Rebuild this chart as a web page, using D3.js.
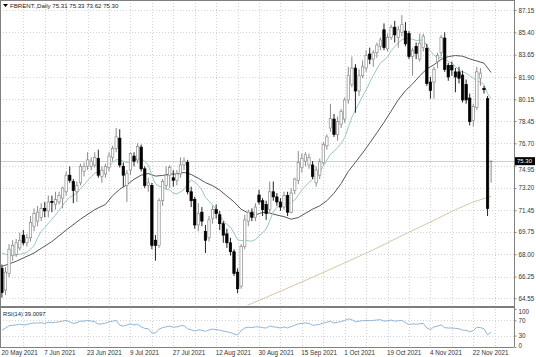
<!DOCTYPE html>
<html><head><meta charset="utf-8">
<script src="https://cdn.jsdelivr.net/npm/d3@7"></script>
<style>
html,body{margin:0;padding:0;background:#fff;}
svg{display:block;font-family:"Liberation Sans",Arial,sans-serif;}
</style></head><body>
<svg id="c" width="536" height="357"></svg>
<script>
const symbolName = "FBRENT.,Daily";
const lastQuote = [75.31, 75.33, 73.62, 75.30];
const rsiName = "RSI(14)";
const rsiLast = "39.0097";

const dateLabels = ["20 May 2021","7 Jun 2021","23 Jun 2021","9 Jul 2021","27 Jul 2021","12 Aug 2021","30 Aug 2021","15 Sep 2021","1 Oct 2021","19 Oct 2021","4 Nov 2021","22 Nov 2021"];
const dateLabelBars = [0,12,24,36,48,60,72,84,96,108,120,132];
const priceTicks = [87.15,85.40,83.65,81.90,80.15,78.45,76.70,74.95,73.20,71.45,69.75,68.00,66.25,64.55];
const rsiTicks = [100,70,30,0];
const rsiLevels = [70,30];

const opens = [66.9,65.2,66.5,67.9,68.0,68.5,69.5,68.9,69.3,70.2,70.6,70.9,71.6,71.4,72.15,71.9,72.1,72.4,72.9,74.2,73.7,72.9,73.6,74.5,74.9,74.9,75.0,75.5,74.1,74.3,74.8,75.6,76.3,77.1,74.9,73.4,74.6,75.7,75.4,76.4,74.7,73.4,73.4,69.1,68.7,72.2,73.4,74.2,74.0,73.8,74.3,75.0,75.2,72.9,72.3,70.3,71.3,69.8,69.3,70.8,71.5,71.1,70.4,69.6,68.9,68.2,66.6,65.5,68.6,70.6,71.3,70.9,72.65,72.2,71.9,71.5,72.9,72.5,72.1,71.7,72.6,71.3,73.0,73.8,74.8,75.3,75.0,75.0,73.6,74.2,75.2,76.5,77.9,78.6,77.4,78.2,78.6,80.1,81.3,82.6,80.8,82.0,82.6,83.7,83.3,83.8,84.3,85.6,84.1,85.0,85.8,85.0,85.4,85.5,85.3,83.5,84.3,83.3,84.2,84.15,81.5,81.5,83.1,83.8,84.95,82.8,82.8,82.3,82.3,82.05,81.3,80.25,78.5,79.5,81.8,81.0,80.2,75.31];
const highs = [67.2,67.0,68.8,69.1,69.2,69.7,69.9,69.6,71.0,71.6,71.8,72.0,72.1,72.6,72.6,72.9,72.9,73.3,74.5,74.9,73.9,73.7,75.1,75.2,76.0,75.6,76.0,76.2,74.9,75.1,76.0,76.5,77.9,77.8,75.2,74.6,76.0,76.0,76.7,76.6,74.9,74.0,73.6,69.5,72.4,73.9,74.9,75.0,74.6,74.6,75.6,75.6,75.4,73.3,72.5,72.0,71.7,70.3,71.0,71.8,71.9,71.4,70.6,70.0,69.3,68.4,66.9,68.8,71.1,71.5,71.6,72.0,73.05,72.4,72.2,73.7,73.7,72.8,72.4,72.9,72.9,73.2,74.0,76.1,75.9,76.0,75.9,75.3,74.9,75.5,76.8,77.4,79.8,79.0,78.8,79.4,80.3,82.7,83.5,82.9,82.5,83.2,84.0,84.2,84.0,84.6,85.0,86.1,85.3,86.0,86.3,85.9,86.75,86.2,85.5,84.2,84.6,85.3,85.3,84.5,81.9,82.7,83.8,85.2,85.4,83.0,83.1,82.6,82.7,82.4,81.7,80.6,79.8,82.7,82.6,81.2,80.4,75.33];
const lows = [64.6,64.8,66.2,67.5,67.8,68.3,68.7,68.6,69.0,69.8,70.2,70.6,70.9,70.9,71.3,71.5,71.9,71.6,72.6,73.6,72.0,72.1,73.4,74.1,74.6,74.6,74.8,74.0,73.6,74.0,74.5,75.3,76.0,74.8,73.3,72.1,74.2,74.9,75.1,74.5,73.2,72.9,68.4,67.5,68.5,71.8,73.1,73.2,73.3,73.4,74.0,74.6,72.7,71.7,70.0,69.8,70.2,68.1,69.0,70.4,70.8,69.9,68.9,68.5,67.9,66.3,64.95,65.3,68.4,70.2,70.6,70.6,71.9,71.0,70.7,71.3,72.2,71.8,71.4,71.5,71.0,71.2,72.7,73.5,74.4,74.9,74.7,73.9,73.3,73.9,75.0,76.2,77.6,77.2,76.9,77.9,78.3,79.8,81.1,79.1,80.4,81.8,82.3,82.9,82.7,83.4,84.0,84.0,83.9,84.8,84.6,84.2,85.1,84.3,83.3,82.0,83.3,83.1,83.9,81.2,80.2,80.2,82.6,83.5,82.3,81.6,82.0,80.7,81.4,79.9,79.8,78.1,78.0,79.3,81.2,80.6,71.0,73.62];
const closes = [65.0,66.6,68.4,68.7,68.9,69.1,68.9,69.3,70.5,71.2,71.3,71.6,71.4,72.1,72.05,72.3,72.6,73.2,74.2,73.8,73.0,73.4,74.9,74.9,75.4,75.3,75.6,74.2,74.6,74.9,75.7,76.3,77.2,75.0,74.2,74.35,75.9,75.3,76.45,74.7,73.4,73.6,68.7,68.7,72.2,73.7,74.2,74.8,73.8,74.3,75.0,75.3,72.9,72.2,70.3,71.2,70.6,69.1,70.7,71.5,71.2,70.4,69.5,68.9,68.2,66.5,65.3,68.6,70.7,71.3,70.9,71.7,72.1,71.5,71.2,72.9,72.5,72.1,71.7,72.6,71.3,72.8,73.9,75.2,75.5,75.8,75.6,74.1,74.6,75.25,76.6,77.2,78.65,77.4,78.4,79.2,80.1,82.0,82.6,80.8,82.0,82.7,83.6,83.3,83.8,84.4,84.8,84.2,85.0,85.8,85.2,85.6,86.0,84.5,83.5,84.0,83.75,84.55,85.1,81.4,80.85,82.5,83.6,85.0,82.5,81.9,82.45,81.9,81.8,80.1,80.1,78.4,79.6,82.3,82.2,80.9,71.6,75.30];

// moving average lines
const maFast = [68.1,68.0,67.95,67.95,67.95,68.0,68.05,68.15,68.4,68.66,69.29,69.79,70.09,70.43,70.75,71.07,71.44,71.83,72.2,72.46,72.63,72.81,73.16,73.44,73.77,74.07,74.37,74.47,74.51,74.62,74.89,75.18,75.41,75.42,75.3,75.2,75.24,75.35,75.53,75.51,75.28,75.01,74.16,73.53,73.33,73.27,73.1,73.05,72.78,72.74,72.9,73.07,73.49,73.84,73.65,73.4,73.04,72.47,72.16,71.88,71.5,71.01,70.67,70.34,70.13,69.66,69.13,69.08,69.08,69.06,69.03,69.16,69.42,69.68,69.98,70.62,71.34,71.69,71.79,71.92,71.96,72.07,72.25,72.62,73.05,73.34,73.65,73.85,74.14,74.41,74.94,75.38,75.85,76.07,76.36,76.7,77.15,77.94,78.74,79.3,79.84,80.39,80.88,81.47,82.01,82.53,83.0,83.22,83.46,83.96,84.28,84.57,84.81,84.93,84.9,84.86,84.76,84.79,84.8,84.36,83.93,83.62,83.38,83.43,83.33,83.12,82.99,82.72,82.45,82.3,82.2,82.0,81.8,81.6,81.5,81.3,80.6,80.2];
const maSlowBars = [0,4,9,14,18,22,26,29,31,33,35,37,39,41,43,45,47,49,51,53,55,57,59,61,63,65,67,69,71,73,75,77,79,81,83,85,87,89,91,93,95,97,99,101,103,105,107,109,111,113,115,117,119,121,123,125,127,129,131,133,135,137];
const maSlow = [67.05,67.45,68.1,69.0,69.9,70.75,71.5,71.91,72.59,73.1,73.45,73.88,74.2,74.33,74.13,74.18,74.29,74.29,74.42,74.26,73.96,73.62,73.38,73.03,72.57,72.11,71.53,71.23,71.08,71.29,71.23,71.08,70.95,70.75,70.88,71.21,71.54,71.8,72.2,72.79,73.55,74.49,75.21,75.94,76.72,77.52,78.34,79.22,80.11,80.82,81.36,81.98,82.54,82.86,83.28,83.5,83.58,83.53,83.32,83.15,82.98,82.25];
const ma200Bars = [66,70,73,80,87,95,104,113,122,127,132,137];
const ma200 = [63.7,64.15,64.5,65.35,66.2,67.2,68.35,69.6,70.8,71.5,72.1,72.55];

const rsi = [44,50,56,57,58,60,58,59,62,63,63,64,62,65,64,65,66,68,70,66,62,64,68,68,70,68,67,60,61,63,66,68,70,57,55,58,61,58,60,53,49,48,37,37,47,51,53,55,52,53,56,56,48,45,42,45,44,41,45,47,46,44,42,40,38,34,31.5,43,50,52,51,53,53,51,50,55,53,52,50,53,50,54,57,61,62,63,62,57,58,60,63,65,68,63,65,67,70,74,72,66,68,69,70,69,70,71,72,68,69,71,68,69,70,64,59,61,60,61,62,50,46,53,55,58,51,50,50,49,48,44,44,40,43,52,51,48,32,39.01];

const W = 536, H = 357;
const plotL = 0, plotR = 514;
const mainTop = 0, mainBot = 305;
const rsiTop = 309, rsiBot = 347;
const barStep = 3.571, bar0 = 1.9;
const nBars = closes.length;

const svg = d3.select("#c");
svg.append("rect").attr("width", W).attr("height", H).attr("fill", "#fff");

const x = d3.scaleLinear().domain([0, 137]).range([bar0, bar0 + 137 * barStep]);
const y = d3.scaleLinear().domain([64.55, 87.15]).range([298.3, 10]);
const yr = d3.scaleLinear().domain([0, 100]).range([rsiBot, rsiTop]);

const gridColor = "#d2d2d2";
const vIdx = d3.range(6, 145, 6).filter(i => x(i) < plotR);

const defs = svg.append("defs");
defs.append("clipPath").attr("id", "clipMain")
  .append("rect").attr("x", plotL).attr("y", mainTop).attr("width", plotR - plotL).attr("height", mainBot - mainTop);
defs.append("clipPath").attr("id", "clipRsi")
  .append("rect").attr("x", plotL).attr("y", rsiTop).attr("width", plotR - plotL).attr("height", rsiBot - rsiTop);

const grid = svg.append("g").attr("stroke", gridColor).attr("stroke-width", 1).attr("stroke-dasharray", "1,2");
grid.selectAll("line.h").data(priceTicks).join("line")
  .attr("x1", plotL).attr("x2", plotR)
  .attr("y1", d => Math.round(y(d)) + 0.5).attr("y2", d => Math.round(y(d)) + 0.5);
grid.selectAll("line.v").data(vIdx).join("line")
  .attr("x1", d => Math.round(x(d)) + 0.5).attr("x2", d => Math.round(x(d)) + 0.5)
  .attr("y1", mainTop).attr("y2", mainBot);
grid.selectAll("line.vr").data(vIdx).join("line")
  .attr("x1", d => Math.round(x(d)) + 0.5).attr("x2", d => Math.round(x(d)) + 0.5)
  .attr("y1", rsiTop).attr("y2", rsiBot);
grid.selectAll("line.rl").data(rsiLevels).join("line")
  .attr("x1", plotL).attr("x2", plotR)
  .attr("y1", d => Math.round(yr(d)) + 0.5).attr("y2", d => Math.round(yr(d)) + 0.5);

// bid line
svg.append("line").attr("x1", plotL).attr("x2", plotR)
  .attr("y1", Math.round(y(lastQuote[3])) + 0.5).attr("y2", Math.round(y(lastQuote[3])) + 0.5)
  .attr("stroke", "#cfcfcf").attr("stroke-width", 1);

const main = svg.append("g").attr("clip-path", "url(#clipMain)");

const line = d3.line();
main.append("path")
  .attr("d", line(ma200Bars.map((b, i) => [x(b), y(ma200[i])])))
  .attr("fill", "none").attr("stroke", "#d8c6a4").attr("stroke-width", 1);
main.append("path")
  .attr("d", line(maSlowBars.map((b, i) => [x(b), y(maSlow[i])])))
  .attr("fill", "none").attr("stroke", "#555566").attr("stroke-width", 1);
main.append("path")
  .attr("d", line(maFast.map((v, i) => [x(i), y(v)])))
  .attr("fill", "none").attr("stroke", "#98c8c0").attr("stroke-width", 1);

// candles
const bars = d3.range(nBars).map(i => ({i, o: opens[i], h: highs[i], l: lows[i], c: closes[i]}));
const isBull = d => d.c >= d.o || Math.abs(d.c - d.o) < 0.03;
const cg = main.append("g");
cg.selectAll("line.w").data(bars).join("line")
  .attr("x1", d => x(d.i)).attr("x2", d => x(d.i))
  .attr("y1", d => y(d.h)).attr("y2", d => y(d.l))
  .attr("stroke", d => isBull(d) ? "#8c8c8c" : "#222").attr("stroke-width", 1);
cg.selectAll("rect.b").data(bars).join("rect")
  .attr("x", d => x(d.i) - 1.2)
  .attr("width", 2.4)
  .attr("y", d => y(Math.max(d.o, d.c)))
  .attr("height", d => Math.max(0.8, Math.abs(y(d.o) - y(d.c))))
  .attr("fill", d => isBull(d) ? "#fff" : "#000")
  .attr("stroke", d => isBull(d) ? "#8c8c8c" : "#000")
  .attr("stroke-width", 0.7);

// RSI line
svg.append("g").attr("clip-path", "url(#clipRsi)").append("path")
  .attr("d", line(rsi.map((v, i) => [x(i), yr(v)])))
  .attr("fill", "none").attr("stroke", "#8fb6d6").attr("stroke-width", 1);

// borders
const border = svg.append("g").attr("fill", "none").attr("stroke", "#808080").attr("stroke-width", 1);
border.append("line").attr("x1", 0.5).attr("x2", 0.5).attr("y1", 0).attr("y2", rsiBot);
border.append("line").attr("x1", 0).attr("x2", plotR).attr("y1", 0.5).attr("y2", 0.5);
border.append("line").attr("x1", plotR + 0.5).attr("x2", plotR + 0.5).attr("y1", 0).attr("y2", rsiBot);
border.append("line").attr("x1", 0).attr("x2", plotR).attr("y1", rsiBot + 0.5).attr("y2", rsiBot + 0.5);
svg.append("rect").attr("x", 0).attr("y", mainBot + 1).attr("width", plotR + 1).attr("height", 2).attr("fill", "#7d7d7d");

// price axis
const fontSize = 6.3;
const yAxis = d3.axisRight(y).tickValues(priceTicks).tickFormat(d3.format(".2f")).tickSize(2).tickPadding(2);
const ya = svg.append("g").attr("transform", `translate(${plotR + 0.5},0)`).call(yAxis);
ya.select(".domain").remove();
ya.selectAll("line").attr("stroke", "#888");
ya.selectAll("text").attr("font-size", fontSize).attr("fill", "#333").attr("font-family", "Liberation Sans, Arial, sans-serif")
  .attr("dy", d => Math.abs(d - 74.95) < 0.001 ? "0.95em" : "0.32em");

// RSI axis
const rAxis = d3.axisRight(yr).tickValues(rsiTicks).tickFormat(d3.format("d")).tickSize(2).tickPadding(2);
const ra = svg.append("g").attr("transform", `translate(${plotR + 0.5},0)`).call(rAxis);
ra.select(".domain").remove();
ra.selectAll("line").attr("stroke", "#888");
ra.selectAll("text").attr("font-size", fontSize).attr("fill", "#333").attr("font-family", "Liberation Sans, Arial, sans-serif")
  .attr("dy", d => d === 100 ? "0.7em" : d === 0 ? "0.05em" : "0.32em");

// current price box
const yp = y(lastQuote[3]);
svg.append("rect").attr("x", plotR + 1).attr("y", yp - 4).attr("width", 20).attr("height", 8).attr("fill", "#000");
svg.append("text").attr("x", plotR + 3).attr("y", yp + 2.1).attr("font-size", 6).attr("fill", "#fff")
  .text(d3.format(".2f")(lastQuote[3]));

// date axis
const xAxis = d3.axisBottom(x).tickValues(dateLabelBars).tickFormat((d, i) => dateLabels[i]).tickSize(0).tickPadding(3);
const xa = svg.append("g").attr("transform", `translate(0,${rsiBot + 0.5})`).call(xAxis);
xa.select(".domain").remove();
xa.selectAll("text").attr("font-size", fontSize).attr("fill", "#333").attr("text-anchor", "start")
  .attr("dx", -1).attr("font-family", "Liberation Sans, Arial, sans-serif");

// header
svg.append("path").attr("d", "M3,4 L8,4 L5.5,7 Z").attr("fill", "#000");
svg.append("text").attr("x", 10).attr("y", 8).attr("font-size", 6.1).attr("fill", "#222")
  .text(symbolName + "  " + lastQuote.map(d3.format(".2f")).join(" "));
svg.append("text").attr("x", 3).attr("y", 316).attr("font-size", 5.8).attr("fill", "#222")
  .text(rsiName + " " + rsiLast);
</script>
</body></html>
